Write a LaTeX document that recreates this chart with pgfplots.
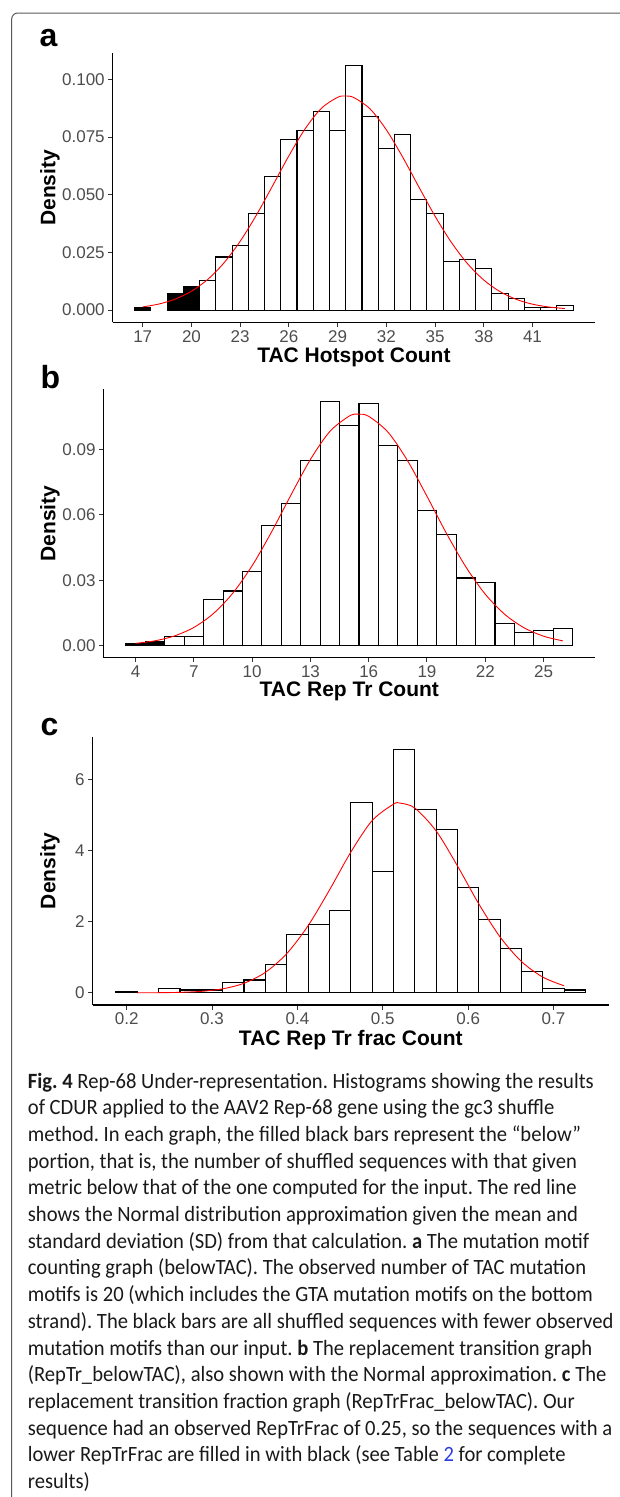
\documentclass[border=0pt]{standalone}
\usepackage{fontspec}
\setmainfont{Liberation Sans}
\newfontfamily\capfont[FakeStretch=0.945]{Carlito}
\usepackage{pgfplots}
\pgfplotsset{compat=1.18}

\definecolor{tickgray}{HTML}{4D4D4D}
\definecolor{linkblue}{RGB}{40,60,230}

\pgfplotsset{
  histo/.style={
    scale only axis,
    anchor=south west,
    axis x line*=bottom,
    axis y line*=left,
    axis line style={line width=1.1pt, black},
    tick align=outside,
    major tick length=4.5pt,
    tick style={line width=1pt, black!80},
    ticklabel style={font=\fontsize{17}{17}\selectfont, text=tickgray},
    /pgf/number format/assume math mode=true,
    scaled ticks=false,
    clip=false,
  },
  whitebar/.style={ybar, bar width=#1, bar shift=0pt, fill=white, draw=black, line width=1.1pt},
  blackbar/.style={ybar, bar width=#1, bar shift=0pt, fill=black, draw=black, line width=1.1pt},
  normcurve/.style={red, smooth, line width=0.9pt, mark=none},
}

\newcommand\paneltag[3]{\node[anchor=base west, inner sep=0pt, font=\bfseries\fontsize{32}{32}\selectfont] at (#1pt,-#2pt) {#3};}
\newcommand\xtitle[3]{\node[anchor=base, inner sep=0pt, font=\bfseries\fontsize{21}{21}\selectfont] at (#1pt,-#2pt) {#3};}
\newcommand\ytitle[1]{\node[rotate=90, anchor=base, inner sep=0pt, font=\bfseries\fontsize{21}{21}\selectfont] at (55.4pt,-#1pt) {Density};}
\newcommand\capline[2]{\node[anchor=base west, inner sep=0pt, font=\capfont\frenchspacing\fontsize{21.8}{26.7}\selectfont, text=black!90] at (27.7pt,{-(1088+26.7*(#1-1))*1pt}) {#2};}

\begin{document}
\begin{tikzpicture}
\path[use as bounding box] (0,0) rectangle (620pt,-1497pt);

% frame of the figure box
\draw[black!65, line width=1pt] (11.7pt,-1497pt) -- (11.7pt,-19pt)
  arc[start angle=180, end angle=90, radius=6pt] -- (620pt,-13pt);

% ---- panel a
\begin{axis}[histo,
  at={(112.7pt,-322.3pt)}, width=482.3pt, height=269pt,
  xmin=15.15, xmax=44.85, ymin=-0.0053, ymax=0.1113,
  xtick={17,20,...,41},
  ytick={0,0.025,0.05,0.075,0.1},
  yticklabel style={/pgf/number format/.cd, fixed, fixed zerofill, precision=3},
]
\addplot[whitebar=1] coordinates {
  (21,0.013) (22,0.023) (23,0.028) (24,0.042) (25,0.058) (26,0.074)
  (27,0.078) (28,0.086) (29,0.078) (30,0.106) (31,0.084) (32,0.070)
  (33,0.076) (34,0.048) (35,0.042) (36,0.021) (37,0.022) (38,0.018)
  (39,0.007) (40,0.005) (41,0.001) (42,0.001) (43,0.002)
};
\addplot[blackbar=1] coordinates {(17,0.001) (19,0.007) (20,0.010)};
\addplot[normcurve] coordinates {
  (17,0.00138) (18,0.00263) (19,0.00476) (20,0.00817) (21,0.01327)
  (22,0.02044) (23,0.02982) (24,0.04120) (25,0.05393) (26,0.06688)
  (27,0.07858) (28,0.08746) (29,0.09222) (29.48,0.0928) (30,0.09212)
  (31,0.08718) (32,0.07815) (33,0.06638) (34,0.05341) (35,0.04071)
  (36,0.02940) (37,0.02011) (38,0.01303) (39,0.00800) (40,0.00465)
  (41,0.00256) (42,0.00134) (43,0.00066)
};
\end{axis}
\paneltag{39.5}{46.7}{a}
\xtitle{353.9}{362.7}{TAC Hotspot Count}
\ytitle{187.8}

% ---- panel b
\begin{axis}[histo,
  at={(103.6pt,-657.7pt)}, width=491.4pt, height=268.4pt,
  xmin=2.35, xmax=27.65, ymin=-0.0056, ymax=0.1176,
  xtick={4,7,...,25},
  ytick={0,0.03,0.06,0.09},
  yticklabel style={/pgf/number format/.cd, fixed, fixed zerofill, precision=2},
]
\addplot[whitebar=1] coordinates {
  (6,0.004) (7,0.004) (8,0.021) (9,0.025) (10,0.034) (11,0.055)
  (12,0.065) (13,0.085) (14,0.112) (15,0.101) (16,0.111) (17,0.092)
  (18,0.085) (19,0.062) (20,0.051) (21,0.031) (22,0.029) (23,0.010)
  (24,0.006) (25,0.007) (26,0.008)
};
\addplot[blackbar=1] coordinates {(4,0.001) (5,0.002)};
\addplot[normcurve] coordinates {
  (4,0.00100) (5,0.00217) (6,0.00440) (7,0.00832) (8,0.01464)
  (9,0.02400) (10,0.03666) (11,0.05217) (12,0.06916) (13,0.08542)
  (14,0.09827) (15,0.10534) (15.48,0.1062) (16,0.10519) (17,0.09785)
  (18,0.08481) (19,0.06848) (20,0.05150) (21,0.03609) (22,0.02356)
  (23,0.01433) (24,0.00812) (25,0.00428) (26,0.00211)
};
\end{axis}
\paneltag{40.5}{388.3}{b}
\xtitle{349.3}{696.7}{TAC Rep Tr Count}
\ytitle{523.5}

% ---- panel c
\begin{axis}[histo,
  at={(92.5pt,-1005pt)}, width=516.5pt, height=267.7pt,
  xmin=0.16, xmax=0.765, ymin=-0.342, ymax=7.18,
  xtick={0.2,0.3,0.4,0.5,0.6,0.7},
  xticklabel style={/pgf/number format/.cd, fixed, precision=1},
  ytick={0,2,4,6},
]
\addplot[whitebar=0.025] coordinates {
  (0.250,0.12) (0.275,0.08) (0.300,0.08) (0.325,0.28) (0.350,0.36)
  (0.375,0.80) (0.400,1.63) (0.425,1.92) (0.450,2.32) (0.475,5.36)
  (0.500,3.40) (0.525,6.84) (0.550,5.15) (0.575,4.60) (0.600,2.96)
  (0.625,2.05) (0.650,1.25) (0.675,0.60) (0.700,0.12) (0.725,0.08)
};
\addplot[blackbar=0.025] coordinates {(0.200,0.04)};
\addplot[normcurve] coordinates {
  (0.2125,0.0011) (0.2375,0.0042) (0.2625,0.0141) (0.2875,0.0421)
  (0.3125,0.1125) (0.3375,0.2691) (0.3625,0.5757) (0.3875,1.101)
  (0.4125,1.885) (0.4375,2.886) (0.4625,3.951) (0.4875,4.839)
  (0.5125,5.300) (0.5204,5.33) (0.5375,5.193) (0.5625,4.550)
  (0.5875,3.566) (0.6125,2.500) (0.6375,1.567) (0.6625,0.879)
  (0.6875,0.4408) (0.7125,0.1977)
};
\end{axis}
\paneltag{40.5}{735}{c}
\xtitle{350.8}{1045}{TAC Rep Tr frac Count}
\ytitle{871.2}

% ---- caption
\capline{1}{\textbf{Fig. 4} Rep-68 Under-representation. Histograms showing the results}
\capline{2}{of CDUR applied to the AAV2 Rep-68 gene using the gc3 shuffle}
\capline{3}{method. In each graph, the filled black bars represent the “below”}
\capline{4}{portion, that is, the number of shuffled sequences with that given}
\capline{5}{metric below that of the one computed for the input. The red line}
\capline{6}{shows the Normal distribution approximation given the mean and}
\capline{7}{standard deviation (SD) from that calculation. \textbf{a} The mutation motif}
\capline{8}{counting graph (belowTAC). The observed number of TAC mutation}
\capline{9}{motifs is 20 (which includes the GTA mutation motifs on the bottom}
\capline{10}{strand). The black bars are all shuffled sequences with fewer observed}
\capline{11}{mutation motifs than our input. \textbf{b} The replacement transition graph}
\capline{12}{(RepTr\_belowTAC), also shown with the Normal approximation. \textbf{c} The}
\capline{13}{replacement transition fraction graph (RepTrFrac\_belowTAC). Our}
\capline{14}{sequence had an observed RepTrFrac of 0.25, so the sequences with a}
\capline{15}{lower RepTrFrac are filled in with black (see Table \textcolor{linkblue}{2} for complete}
\capline{16}{results)}
\end{tikzpicture}
\end{document}
